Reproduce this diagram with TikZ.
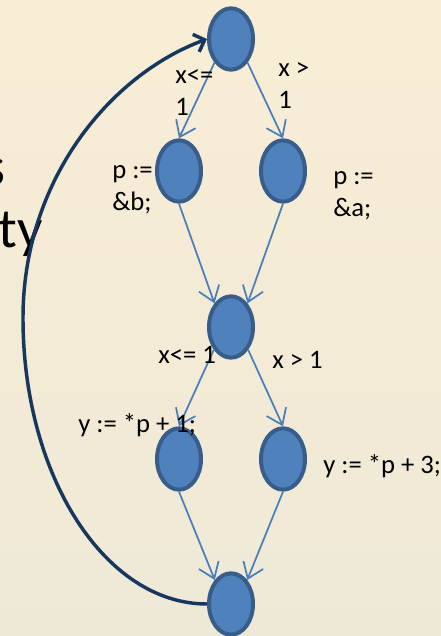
\documentclass[tikz,border=0pt]{standalone}
\usepackage{fontspec}
\setmainfont{Carlito}
\usetikzlibrary{shapes.geometric, arrows.meta}

\definecolor{bgtop}{RGB}{249,237,213}
\definecolor{bgbot}{RGB}{238,233,215}
\definecolor{nodefill}{RGB}{79,129,189}
\definecolor{nodeline}{RGB}{56,93,138}
\definecolor{edgeblue}{RGB}{74,126,187}
\definecolor{backblue}{RGB}{23,55,94}

\begin{document}
\begin{tikzpicture}[x=0.75pt, y=-0.75pt,
    % Define the style for the states
    state/.style={
        ellipse, draw=nodeline, fill=nodefill, line width=3pt,
        inner sep=0pt, minimum width=33pt, minimum height=46pt
    },
    % Define the style for the branches
    branch/.style={
        draw=edgeblue, line width=1.3pt,
        -{Straight Barb[length=11pt, width=16pt]}
    },
    lbl/.style={font=\fontsize{20}{24}\selectfont, inner sep=0pt, align=left}
]

% Background
\useasboundingbox (0,0) rectangle (441,636);
\clip (0,0) rectangle (441,636);
\shade[top color=bgtop, bottom color=bgbot] (0,0) rectangle (441,636);

% Cut-off slide text
\node[font=\fontsize{42}{46}\selectfont, inner sep=0pt, anchor=base east] (ts) at (6,185) {s};
\node[font=\fontsize{42}{46}\selectfont, inner sep=0pt, anchor=base east] (tty) at (43,247) {ty};

% Define the states
\node[state] (n0) at (231,39) {};
\node[state] (nb) at (179,171) {};
\node[state] (na) at (283,171) {};
\node[state] (n1) at (231,327) {};
\node[state] (y1) at (179,459) {};
\node[state] (y3) at (283,459) {};
\node[state] (n2) at (231,604) {};

% Draw the branches
\draw[branch] (n0.235) -- (nb.north);
\draw[branch] (n0.305) -- (na.north);
\draw[branch] (nb.south) -- (n1.125);
\draw[branch] (na.south) -- (n1.55);
\draw[branch] (n1.233) -- (y1.north);
\draw[branch] (n1.307) -- (y3.north);
\draw[branch] (y1.south) -- (n2.124);
\draw[branch] (y3.south) -- (n2.56);

% Add the labels
\node[lbl, anchor=base west] (lx1) at (175,115) {x<=\\1};
\node[lbl, anchor=base west] (lx2) at (278,108) {x >\\1};
\node[lbl, anchor=base west] (lpb) at (112,210) {p :=\\\&b;};
\node[lbl, anchor=base west] (lpa) at (333,216) {p :=\\\&a;};
\node[lbl, anchor=base west] (lx3) at (158,363) {x<= 1};
\node[lbl, anchor=base west] (lx4) at (272,368) {x > 1};
\node[lbl, anchor=base west] (ly1) at (78,432) {y := *p + 1;};
\node[lbl, anchor=base west] (ly3) at (323,473) {y := *p + 3;};

% Draw the back edge
\coordinate (c) at (23,318);
\draw[backblue, line width=2.6pt, -{Straight Barb[length=7pt, width=14pt]}]
    (n2.west) .. controls (105,604) and (23,476) .. (c)
    .. controls (23,180) and (110,75) .. (n0.west);

\end{tikzpicture}
\end{document}
